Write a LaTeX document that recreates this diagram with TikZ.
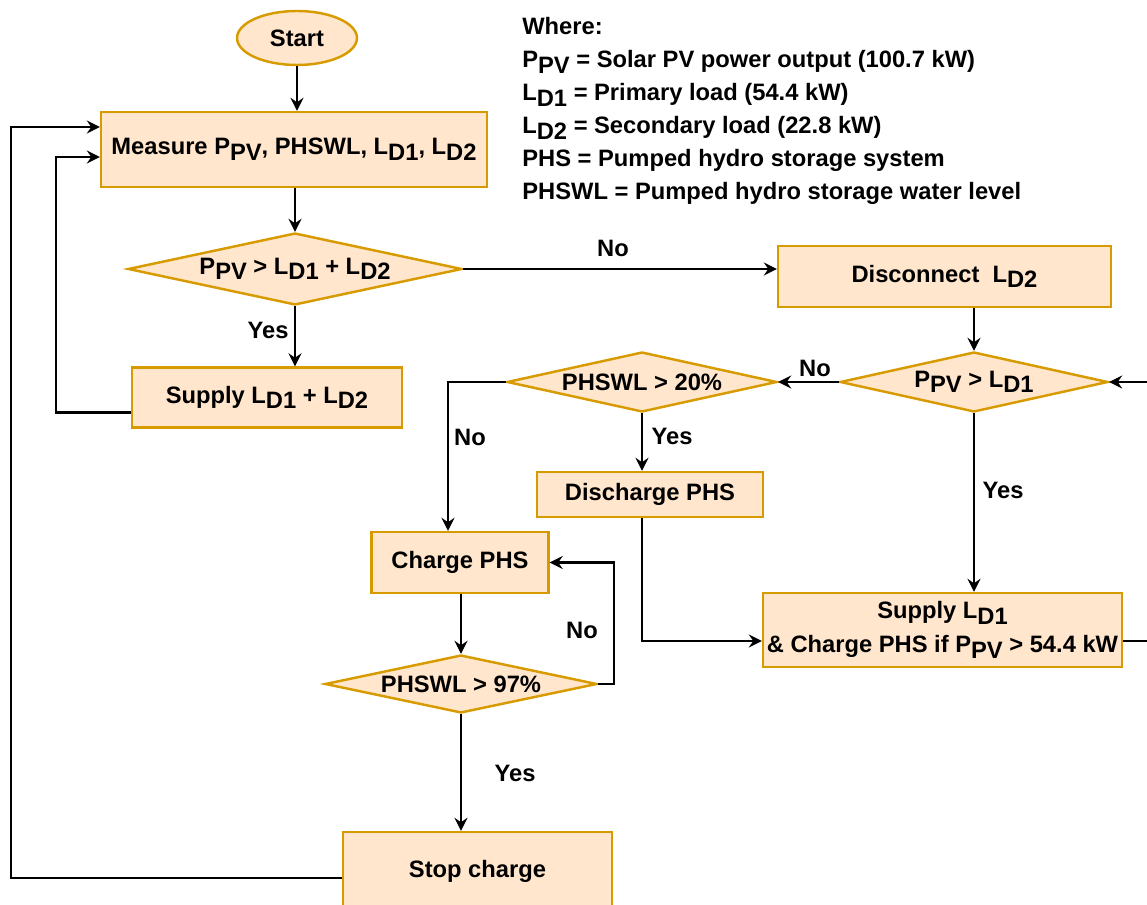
\documentclass[tikz,border=0pt]{standalone}
\usepackage{fontspec}
\setmainfont{Liberation Sans}
\usetikzlibrary{positioning, arrows.meta, calc, shapes.geometric}
\definecolor{flow-fill}{HTML}{FFE6CC}
\definecolor{flow-edge}{HTML}{D79B00}
\newcommand{\lowsub}[1]{\raisebox{-0.45ex}{#1}}
\newcommand{\nowidth}[1]{\makebox[0pt]{#1}}
\tikzset{
  flowtext/.style={font=\bfseries\fontsize{13.5pt}{16pt}\selectfont},
  procbox/.style={flowtext, draw=flow-edge, fill=flow-fill, line width=1.4pt, rectangle, inner sep=2pt},
  decision/.style={flowtext, draw=flow-edge, fill=flow-fill, line width=1.4pt, diamond, aspect=4.6, inner sep=0pt},
  flowline/.style={line width=1.4pt, -{Stealth[length=2.6mm, width=2.6mm, inset=0.9mm]}},
  branch/.style={flowtext, inner sep=0pt}
}
\begin{document}
\begin{tikzpicture}[x=0.02cm, y=-0.02cm]
  \useasboundingbox (0,0) rectangle (1147,905);
  \clip (0,0) rectangle (1147,905);

  % process steps and decisions
  \node[procbox, ellipse, minimum width=2.4cm, minimum height=1.08cm] (start) at (297,38) {Start};
  \node[procbox, minimum width=7.72cm, minimum height=1.5cm] (measure) at (294,149.5)
      {Measure P\lowsub{PV}, PHSWL, L\lowsub{D1}, L\lowsub{D2}};
  \node[decision, minimum width=6.68cm, minimum height=1.44cm] (chkall) at (295,269)
      {\nowidth{P\lowsub{PV} > L\lowsub{D1} + L\lowsub{D2}}};
  \node[procbox, minimum width=5.4cm, minimum height=1.2cm] (supboth) at (267,397.5)
      {Supply L\lowsub{D1} + L\lowsub{D2}};
  \node[procbox, minimum width=6.66cm, minimum height=1.22cm] (discon) at (944.5,276.5)
      {Disconnect~ L\lowsub{D2}};
  \node[decision, minimum width=5.36cm, minimum height=1.2cm] (chkprim) at (974,382)
      {\nowidth{P\lowsub{PV} > L\lowsub{D1}}};
  \node[decision, minimum width=5.4cm, minimum height=1.2cm] (chklow) at (642,382)
      {\nowidth{PHSWL > 20\%}};
  \node[procbox, minimum width=4.52cm, minimum height=0.9cm] (dischg) at (650,494.5) {Discharge PHS};
  \node[procbox, minimum width=3.54cm, minimum height=1.22cm] (charge) at (460,562.5) {Charge PHS};
  \node[decision, minimum width=5.44cm, minimum height=1.16cm] (chkfull) at (461,684)
      {\nowidth{PHSWL > 97\%}};
  \node[procbox, minimum width=7.18cm, minimum height=1.48cm, align=center,
        font=\bfseries\fontsize{13.5pt}{19.5pt}\selectfont] (supprim) at (942.5,630)
      {Supply L\lowsub{D1}\\ \& Charge PHS if P\lowsub{PV} > 54.4 kW};
  \node[procbox, minimum width=5.38cm, minimum height=1.56cm] (stop) at (477.5,871) {Stop charge};

  % legend
  \foreach \txt [count=\i from 0] in {Where:,
      P\lowsub{PV} = Solar PV power output (100.7 kW),
      L\lowsub{D1} = Primary load (54.4 kW),
      L\lowsub{D2} = Secondary load (22.8 kW),
      PHS = Pumped hydro storage system,
      PHSWL = Pumped hydro storage water level} {
    \node[flowtext, anchor=base west, inner sep=0pt] (legend\i) at (522, 35+33*\i) {\txt};
  }

  % connectors
  \draw[flowline] (start.south) -- (start.south |- measure.north);
  \draw[flowline] (chkall.north |- measure.south) -- (chkall.north);
  \draw[flowline] (chkall.south) -- (chkall.south |- supboth.north);
  \draw[flowline] ([yshift=-0.3cm]supboth.west) -- ++(-75,0) |- ([yshift=-0.15cm]measure.west);
  \draw[flowline] ([yshift=-0.14cm]stop.west) -- ++(-331,0) |- ([yshift=0.45cm]measure.west);
  \draw[flowline] (chkall.east) -- (chkall.east -| discon.west);
  \draw[flowline] (discon.south -| chkprim.north) -- (chkprim.north);
  \draw[flowline] (chkprim.west) -- (chklow.east);
  \draw[flowline] (chkprim.south) -- (chkprim.south |- supprim.north);
  \draw[flowline] ([yshift=-0.22cm]supprim.east) -- ++(40,0) |- (chkprim.east);
  \draw[flowline] (chklow.south) -- (chklow.south |- dischg.north);
  \draw[flowline] (chklow.west) -| ([xshift=-0.24cm]charge.north);
  \draw[flowline] (dischg.south -| chklow.south) |- ([yshift=-0.22cm]supprim.west);
  \draw[flowline] (charge.south -| chkfull.north) -- (chkfull.north);
  \draw[flowline] (chkfull.east) -- ++(16,0) |- (charge.east);
  \draw[flowline] (chkfull.south) -- (chkfull.south |- stop.north);

  % branch labels
  \node[branch] (yesall) at (268,330) {Yes};
  \node[branch] (noall) at (613,248) {No};
  \node[branch] (noprim) at (815,368) {No};
  \node[branch] (yesprim) at (1003,490) {Yes};
  \node[branch] (nolow) at (470,437) {No};
  \node[branch] (yeslow) at (672,436) {Yes};
  \node[branch] (nofull) at (582,630) {No};
  \node[branch] (yesfull) at (515,773) {Yes};
\end{tikzpicture}
\end{document}
